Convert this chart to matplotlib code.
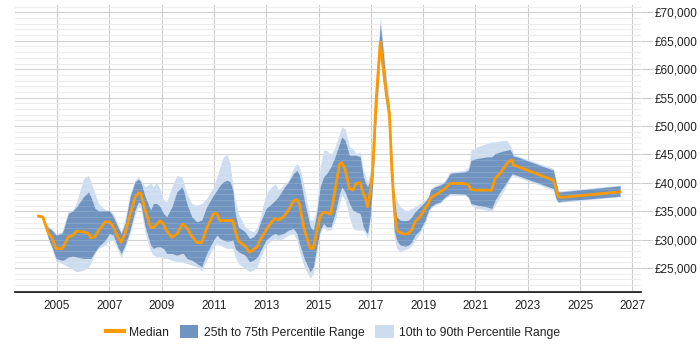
import matplotlib
matplotlib.use("Agg")
import matplotlib.pyplot as plt
from matplotlib.lines import Line2D
from matplotlib.patches import Patch
from matplotlib.ticker import MultipleLocator, FuncFormatter

plt.rcParams['font.family'] = ['Liberation Sans', 'DejaVu Sans']

years = [2004.29, 2004.45, 2004.58, 2004.67, 2004.80, 2004.96, 2005.18, 2005.24, 2005.43, 2005.60,
         2005.75, 2006.01, 2006.20, 2006.29, 2006.45, 2006.58, 2006.84, 2007.00, 2007.15, 2007.32,
         2007.45, 2007.60, 2007.79, 2007.98, 2008.11, 2008.20, 2008.37, 2008.58, 2008.68, 2008.81,
         2008.94, 2009.07, 2009.19, 2009.39, 2009.58, 2009.77, 2009.83, 2009.96, 2010.15, 2010.34,
         2010.53, 2010.72, 2010.98, 2011.11, 2011.23, 2011.36, 2011.49, 2011.62, 2011.72, 2011.81,
         2011.93, 2012.19, 2012.36, 2012.51, 2012.66, 2012.76, 2012.99, 2013.21, 2013.34, 2013.46,
         2013.66, 2013.85, 2014.04, 2014.17, 2014.27, 2014.45, 2014.68, 2014.80, 2014.93, 2015.06,
         2015.19, 2015.31, 2015.47, 2015.63, 2015.80, 2015.89, 2016.01, 2016.18, 2016.31, 2016.43,
         2016.59, 2016.71, 2016.78, 2016.87, 2016.97, 2017.06, 2017.20, 2017.36, 2017.45, 2017.61,
         2017.71, 2017.80, 2017.89, 2017.99, 2018.12, 2018.31, 2018.44, 2018.56, 2018.69, 2018.88,
         2019.07, 2019.20, 2019.29, 2019.46, 2019.65, 2019.84, 2020.03, 2020.16, 2020.60, 2020.73,
         2020.83, 2021.05, 2021.43, 2021.62, 2021.75, 2021.94, 2022.20, 2022.32, 2022.41, 2022.45,
         2022.58, 2023.98, 2024.08, 2024.17, 2024.27, 2026.53]

median = [34150, 34030, 32270, 31100, 30400, 28460, 28410, 28760, 30510, 30750,
          31510, 31390, 31100, 30340, 30510, 31570, 33150, 33150, 32270, 30510,
          29520, 31100, 34320, 37430, 38250, 38130, 35200, 32160, 32160, 32680,
          33330, 32740, 31570, 30400, 30980, 32570, 32740, 32100, 30630, 29520,
          29460, 31980, 34560, 34620, 33270, 33440, 33350, 33390, 33390, 31570,
          29750, 28870, 27760, 28290, 28760, 29930, 31690, 33150, 33740, 33440,
          34030, 35200, 36780, 37080, 36260, 31800, 28460, 28460, 31390, 34150,
          34850, 34730, 34500, 38720, 43290, 43580, 42530, 39010, 38720, 39890,
          40010, 38130, 37550, 35790, 38130, 41650, 54530, 64780, 60980, 55120,
          52190, 42230, 35790, 31690, 31220, 30980, 31100, 31690, 33150, 34030,
          35490, 36370, 37370, 37840, 38420, 39010, 39890, 39890, 39890, 39600,
          38830, 38720, 38720, 38720, 40770, 41650, 43400, 43870, 43990, 43110,
          42940, 40470, 39010, 37550, 37430, 38420]

p25 = [34000, 33900, 31690, 30220, 28760, 26710, 26410, 26410, 26960, 27120,
       26960, 26710, 26710, 26710, 27880, 28760, 29930, 31100, 30810, 28760,
       27590, 29050, 31690, 35200, 36670, 36370, 32270, 29050, 28470, 28760,
       28760, 28470, 27590, 27590, 27290, 27590, 27590, 26710, 26410, 25830,
       25240, 27590, 29930, 30810, 30220, 29930, 29750, 29810, 29930, 28470,
       27880, 27290, 26120, 26410, 27000, 27880, 29930, 30810, 31100, 30810,
       31100, 31690, 31980, 31100, 29340, 26710, 24360, 25240, 28760, 31690,
       32860, 32270, 32270, 34620, 38130, 39300, 38420, 36370, 35200, 34910,
       34620, 32270, 31690, 31100, 34030, 39300, 51610, 63300, 58640, 53360,
       49850, 39300, 31690, 29930, 29050, 28880, 29050, 29640, 30810, 31690,
       33440, 35200, 35790, 36370, 36670, 37550, 38130, 38130, 38010, 37550,
       36370, 36080, 35790, 35500, 36960, 38420, 40180, 41060, 41650, 41530,
       41350, 39010, 37250, 36670, 36780, 37660]

p75 = [34300, 34200, 32570, 32100, 31690, 30810, 31100, 31690, 34620, 35090,
       35790, 37550, 38420, 37550, 35500, 35090, 35090, 35090, 34030, 32270,
       31100, 32860, 37550, 40180, 40650, 40180, 37550, 35200, 36370, 36370,
       35790, 34620, 34030, 35790, 38420, 39300, 38720, 36370, 34030, 33150,
       33440, 35790, 37840, 38720, 39600, 40180, 40470, 40180, 38720, 34620,
       32270, 31390, 30220, 30520, 31390, 32860, 35500, 36370, 36960, 37550,
       39010, 40180, 41650, 42230, 41350, 36960, 32270, 31690, 34620, 39300,
       41060, 41650, 42820, 44580, 46920, 48090, 47500, 44870, 44870, 44870,
       44580, 41060, 40180, 39300, 40470, 43990, 57460, 68000, 63910, 56290,
       53360, 44580, 37550, 34030, 33440, 33330, 33440, 34030, 34910, 35790,
       36670, 37550, 38830, 39300, 39600, 40180, 41650, 41760, 41940, 42230,
       43990, 44280, 44580, 44580, 45160, 45450, 45750, 45860, 45160, 44690,
       44580, 42230, 40180, 38420, 38420, 39480]

p10 = [33900, 33800, 31390, 29930, 28470, 26120, 25830, 25710, 25240, 24770,
       24360, 24660, 25240, 25830, 27590, 28470, 29050, 29930, 29930, 28170,
       26880, 28470, 31100, 34320, 35790, 35500, 31100, 27880, 27290, 27000,
       27000, 26710, 26710, 26410, 26120, 26120, 26000, 25830, 25540, 25240,
       24540, 26410, 28760, 29340, 29050, 28760, 28470, 28470, 28470, 27000,
       25830, 24950, 24360, 24660, 25240, 26710, 29050, 29930, 30220, 29930,
       30220, 30810, 31100, 29930, 27880, 25240, 23190, 24070, 27590, 31100,
       32270, 31690, 31690, 33440, 36370, 37840, 36960, 34030, 31980, 31690,
       31690, 31690, 31100, 30220, 33150, 38720, 50730, 62400, 57760, 52480,
       48680, 38420, 30520, 28470, 27880, 28290, 28470, 29050, 29930, 31100,
       32860, 34620, 35500, 36080, 36370, 37250, 37840, 37840, 37840, 37250,
       36080, 35500, 35200, 34910, 36080, 37550, 39600, 40770, 41350, 41240,
       41060, 38720, 37000, 36490, 36600, 37550]

p90 = [34400, 34300, 32740, 32390, 31980, 31100, 31390, 32270, 35090, 35200,
       36670, 40770, 41350, 40180, 38130, 36370, 35320, 35200, 34620, 32860,
       31390, 33740, 38130, 40470, 41060, 40470, 39300, 40010, 39300, 40180,
       38720, 36960, 36670, 39300, 41350, 41060, 40180, 38130, 36370, 36080,
       36370, 37250, 39300, 41060, 42820, 44580, 45040, 43400, 39300, 36960,
       34620, 32270, 31690, 31390, 32270, 33740, 38130, 39300, 39890, 38720,
       39600, 40470, 42530, 43400, 42820, 39300, 33440, 33440, 35790, 42820,
       45750, 45750, 44870, 46330, 48680, 49850, 49550, 46330, 46040, 45160,
       45450, 42230, 41350, 40180, 41940, 44580, 58640, 69200, 65080, 58050,
       54530, 45750, 38720, 36960, 35790, 35200, 35200, 35500, 35790, 36370,
       36960, 37660, 39010, 39600, 39890, 40470, 41940, 41940, 42230, 42820,
       45750, 46330, 46920, 47210, 47210, 47390, 47500, 46630, 45750, 45040,
       44810, 42530, 40400, 38600, 38600, 39600]

xticks = [2005, 2007, 2009, 2011, 2013, 2015, 2017, 2019, 2021, 2023, 2025, 2027]
yticks = [25000, 30000, 35000, 40000, 45000, 50000, 55000, 60000, 65000, 70000]

C_MED = '#ff9900'
C_DARK = '#7094bf'
C_LIGHT = '#cddcee'

fig = plt.figure(figsize=(7, 3.5), dpi=100)
ax = fig.add_axes([15/700, 1-292/350, (641-15)/700, (292-5)/350])

ax.fill_between(years, p10, p90, color=C_LIGHT, lw=0, zorder=2)
ax.fill_between(years, p25, p75, color=C_DARK, lw=0, zorder=3)
ax.plot(years, median, color=C_MED, lw=2, zorder=5, solid_joinstyle='round')

ax.set_xlim(2003.39, 2027.33)
ax.set_ylim(20800, 71300)
ax.set_xticks(xticks)
ax.set_xticklabels([str(t) for t in xticks])
ax.set_yticks(yticks)
ax.yaxis.set_minor_locator(MultipleLocator(1000))
ax.yaxis.set_major_formatter(FuncFormatter(lambda v, p: '£{:,.0f}'.format(v)))
ax.yaxis.tick_right()

ax.grid(axis='y', which='major', color='#cccccc', lw=0.8, zorder=0)
ax.grid(axis='y', which='minor', color='#ebebeb', lw=0.8, zorder=0)
ax.grid(axis='x', which='major', color='#cccccc', lw=0.8, zorder=0)
ax.set_axisbelow(True)

# faint grid showing through the bands
for v in range(21000, 71001, 1000):
    ax.axhline(v, color='white', alpha=0.12, lw=0.8, zorder=4)

for s in ['top', 'left', 'right']:
    ax.spines[s].set_visible(False)
ax.spines['bottom'].set_color('#000000')
ax.spines['bottom'].set_linewidth(1.2)

ax.tick_params(axis='x', length=0, pad=6, labelsize=8.5, colors='#222222')
ax.tick_params(axis='y', which='major', length=8, color='#cccccc', width=0.8, pad=2,
               labelsize=8.5, labelcolor='#222222')
ax.tick_params(axis='y', which='minor', length=0)

handles = [Line2D([0], [0], color=C_MED, lw=3),
           Patch(facecolor=C_DARK, edgecolor='none'),
           Patch(facecolor=C_LIGHT, edgecolor='none')]
labels = ['Median', '25th to 75th Percentile Range', '10th to 90th Percentile Range']
fig.legend(handles, labels, loc='center', bbox_to_anchor=(333/700, 1-332/350), ncol=3,
           frameon=False, fontsize=8.7, handlelength=1.5, handleheight=1.3,
           handletextpad=0.45, columnspacing=0.9, labelcolor='#222222')

fig.savefig('out.png', dpi=100)
